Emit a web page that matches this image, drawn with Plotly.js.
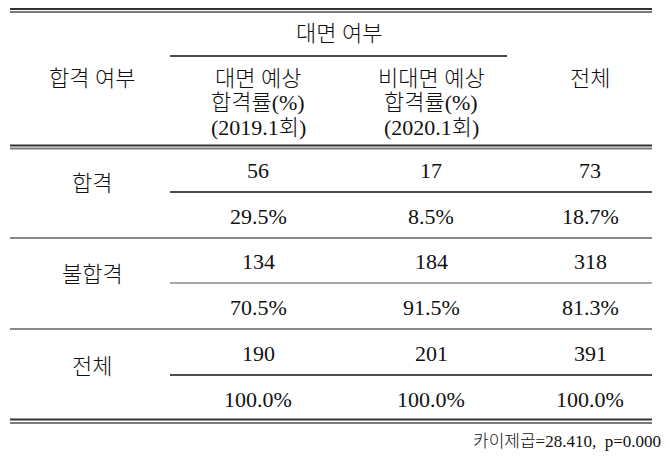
<!DOCTYPE html>
<html><head><meta charset="utf-8">
<script src="https://cdn.plot.ly/plotly-3.0.1.min.js"></script>
<style>html,body{margin:0;padding:0;background:#fff}#c{width:670px;height:459px}</style>
</head><body><div id="c"></div>
<script>
// ---- data ----
const groupHeader = '대면 여부';
const rowHeader = '합격 여부';
const colHeaders = [
  ['대면 예상', '합격률(%)', '(2019.1회)'],
  ['비대면 예상', '합격률(%)', '(2020.1회)'],
  ['전체']
];
const rowLabels = ['합격', '불합격', '전체'];
const counts = [
  [56, 17, 73],
  [134, 184, 318],
  [190, 201, 391]
];
const percents = [
  [29.5, 8.5, 18.7],
  [70.5, 91.5, 81.3],
  [100.0, 100.0, 100.0]
];
const footnote = '카이제곱=28.410,  p=0.000';

// ---- layout geometry ----
const FONT = 'Liberation Serif, "Noto Sans CJK KR", serif';
const FS = 22;
const L = 10, R = 652, CX0 = 170;
const colX = [92, 258, 431, 590];
const rowTop = [147, 238, 330];
const rowH = 92;

const ann = [];
const shapes = [];
function txt(x, y, t, opts) {
  ann.push(Object.assign({x: x, y: y, xref: 'x', yref: 'y', text: t, showarrow: false,
    xanchor: 'center', yanchor: 'middle',
    font: {family: FONT, size: FS, color: '#111', weight: 300}}, opts || {}));
}
function hline(x0, x1, y, color, w) {
  shapes.push({type: 'line', xref: 'x', yref: 'y', x0: x0, x1: x1, y0: y, y1: y,
    line: {color: color, width: w}});
}

// top double line
hline(L, R, 9, '#333', 2);
hline(L, R, 12, '#7a7a7a', 2);
// header
txt((CX0 + 507) / 2, 33, groupHeader);
hline(CX0, 507, 56, '#111', 1.5);
txt(colX[0], 78, rowHeader);
colHeaders.forEach((lines, j) => {
  lines.forEach((ln, k) => txt(colX[j + 1], 78 + k * 24.5, ln));
});
// header bottom double line
hline(L, R, 145.5, '#333', 2);
hline(L, R, 148.5, '#7a7a7a', 2);

const innerColors = ['#111', '#888', '#111'];
rowLabels.forEach((lab, i) => {
  const top = rowTop[i];
  txt(colX[0], top + 36, lab);
  counts[i].forEach((v, j) => txt(colX[j + 1], top + 23, String(v)));
  percents[i].forEach((v, j) => txt(colX[j + 1], top + 69, v.toFixed(1) + '%'));
  hline(CX0, R, top + 45, innerColors[i], 1.6);
  if (i < rowLabels.length - 1) hline(L, R, top + rowH - 1, '#888', 2);
});
// bottom double line
hline(L, R, 419.5, '#333', 2);
hline(L, R, 423, '#7a7a7a', 2);
txt(663, 441, footnote, {xanchor: 'right', font: {family: FONT, size: 17, color: '#111', weight: 300}});

const ax = {visible: false, showgrid: false, zeroline: false, fixedrange: true};
Plotly.newPlot('c', [{type: 'scatter', x: [], y: [], mode: 'markers', hoverinfo: 'skip'}], {
  width: 670, height: 459,
  margin: {l: 0, r: 0, t: 0, b: 0},
  paper_bgcolor: '#fff', plot_bgcolor: '#fff',
  showlegend: false,
  xaxis: Object.assign({range: [0, 670]}, ax),
  yaxis: Object.assign({range: [459, 0]}, ax),
  annotations: ann,
  shapes: shapes
}, {staticPlot: true});
</script>
</body></html>
